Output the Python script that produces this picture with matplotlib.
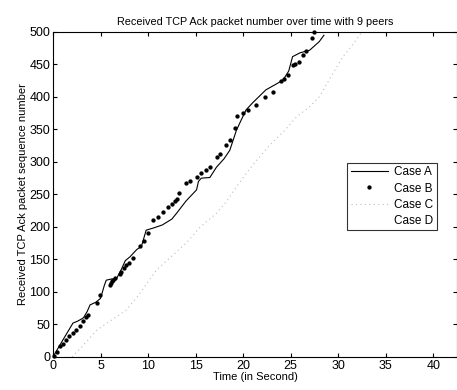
import matplotlib as mpl
mpl.use('Agg')
import matplotlib.pyplot as plt

#----- DATA -----
caseA_x = [0, 1.0, 2.1, 2.6, 3.2, 3.6, 3.9, 4.5, 5.0, 5.4, 5.6, 6.2, 6.6, 7.2, 7.6, 8.1,
           8.8, 9.3, 9.8, 10.5, 11.5, 12.5, 13.0, 14.0, 15.1, 15.3, 15.6, 16.5, 17.2,
           18.0, 18.6, 19.3, 20.3, 21.0, 22.4, 23.5, 24.2, 24.8, 25.2, 26.0, 27.0, 28.0, 28.5]
caseA_y = [0, 25, 52, 55, 60, 70, 80, 84, 90, 110, 118, 120, 118, 135, 148, 154,
           165, 170, 195, 198, 203, 212, 221, 240, 257, 270, 275, 276, 292,
           305, 318, 349, 380, 391, 411, 420, 426, 440, 462, 468, 472, 485, 495]

caseB_x = [0.1, 0.4, 0.7, 1.0, 1.4, 1.7, 2.1, 2.4, 2.8, 3.2, 3.5, 3.7, 4.6, 4.9,
           6.0, 6.1, 6.2, 6.3, 6.5, 7.0, 7.2, 7.5, 7.7, 8.0, 8.4, 9.1, 9.6, 10.0,
           10.5, 11.0, 11.6, 12.1, 12.5, 12.8, 13.0, 13.3, 14.0, 14.4, 15.1, 15.6,
           16.1, 16.5, 17.2, 17.6, 18.2, 18.6, 19.1, 19.4, 20.0, 20.5, 21.4, 22.3,
           23.1, 24.0, 24.3, 24.7, 25.2, 25.5, 25.9, 26.3, 26.6, 27.2, 27.5]
caseB_y = [2, 8, 16, 20, 26, 32, 36, 42, 47, 55, 62, 64, 83, 95,
           110, 113, 116, 118, 122, 128, 131, 136, 141, 144, 152, 170, 178, 190,
           211, 215, 223, 230, 236, 240, 243, 252, 267, 270, 277, 283,
           288, 292, 308, 312, 326, 333, 352, 370, 375, 380, 388, 400,
           408, 424, 428, 434, 449, 451, 454, 465, 470, 490, 500]

caseC_x = [2.0, 3.0, 4.6, 5.5, 7.7, 9.0, 10.9, 12.5, 14.0, 15.5, 17.2, 18.3, 19.3,
           21.0, 22.8, 24.4, 25.6, 27.0, 28.0, 29.2, 30.5, 31.5, 32.4]
caseC_y = [0, 15, 41, 50, 72, 95, 134, 155, 175, 200, 221, 240, 262,
           295, 326, 349, 369, 385, 400, 430, 462, 480, 498]

xticks = [0, 5, 10, 15, 20, 25, 30, 35, 40]
yticks = [0, 50, 100, 150, 200, 250, 300, 350, 400, 450, 500]

#------ Figure ----------
plt.rcParams['font.family'] = ['Liberation Sans', 'DejaVu Sans']

fig = plt.figure(figsize=[4.57, 3.90], dpi=100)
ax = fig.add_axes([0.116, 0.085, 0.884, 0.833])

ax.plot(caseA_x, caseA_y, color='k', lw=0.8, label='Case A')
ax.plot(caseB_x, caseB_y, ls='none', marker='o', ms=2.1, color='k', label='Case B',
        clip_on=False)
ax.plot(caseC_x, caseC_y, color='#bdbdbd', lw=0.8, ls=(0, (1, 3)), label='Case C')
ax.plot([], [], color='none', label='Case D')

ax.set_xlim(0, 42.5)
ax.set_ylim(0, 500)
ax.set_xticks(xticks)
ax.set_yticks(yticks)
ax.tick_params(direction='in', length=3, labelsize=9, top=True, right=True, pad=2)
for s in ax.spines.values():
    s.set_linewidth(0.8)

ax.set_title('Received TCP Ack packet number over time with 9 peers', fontsize=7.8, pad=5)
ax.set_xlabel('Time (in Second)', fontsize=8, labelpad=0)
ax.set_ylabel('Received TCP Ack packet sequence number', fontsize=8, labelpad=1)

leg = ax.legend(loc='upper right', bbox_to_anchor=(0.965, 0.615), fontsize=8.5,
                frameon=True, fancybox=False, edgecolor='k', handlelength=3.2,
                borderpad=0.3, labelspacing=0.35, handletextpad=0.5)
leg.get_frame().set_linewidth(0.8)

fig.savefig('out.png', dpi=100)
plt.close(fig)
